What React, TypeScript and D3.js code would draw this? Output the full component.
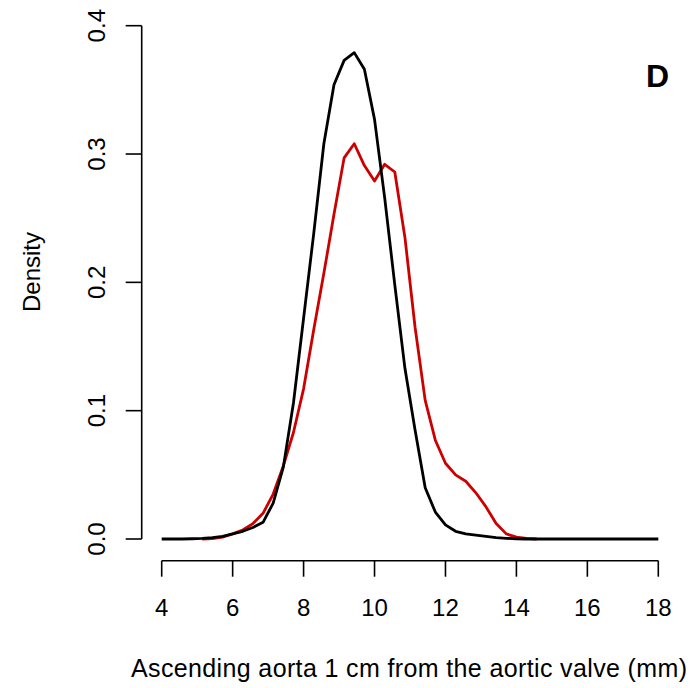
import React from "react";
import * as d3 from "d3";

// x grid on which densities are evaluated (50 points from 4 to 18)
const xGrid: number[] = d3.range(50).map((k) => 4 + (k * 14) / 49);

const blackDensity: number[] = [
  0, 0, 0, 0.0002, 0.0005, 0.001, 0.002, 0.004, 0.006, 0.009,
  0.013, 0.028, 0.056, 0.106, 0.172, 0.238, 0.308, 0.354, 0.373, 0.379,
  0.366, 0.327, 0.266, 0.198, 0.133, 0.085, 0.04, 0.021, 0.011, 0.006,
  0.004, 0.003, 0.002, 0.001, 0.0005, 0.0002, 0, 0, 0, 0,
  0, 0, 0, 0, 0, 0, 0, 0, 0, 0,
];

const redDensity: (number | null)[] = [
  null, null, null, null, 0, 0.0003, 0.0015, 0.004, 0.007, 0.012,
  0.02, 0.035, 0.057, 0.083, 0.117, 0.163, 0.207, 0.253, 0.297, 0.308,
  0.291, 0.279, 0.292, 0.286, 0.235, 0.165, 0.108, 0.077, 0.059, 0.05,
  0.045, 0.036, 0.025, 0.012, 0.004, 0.0015, 0.0005, 0, null, null,
  null, null, null, null, null, null, null, null, null, null,
];

const xTicks: number[] = [4, 6, 8, 10, 12, 14, 16, 18];
const yTicks: number[] = [0, 0.1, 0.2, 0.3, 0.4];
const xLabel = "Ascending aorta 1 cm from the aortic valve (mm)";
const yLabel = "Density";
const panelLabel = "D";

const FONT = "'Liberation Sans', Arial, Helvetica, sans-serif";

export default function App() {
  const W = 693;
  const H = 688;
  const x = d3.scaleLinear().domain([4, 18]).range([161.7, 658.3]);
  const y = d3.scaleLinear().domain([0, 0.4]).range([539, 25.7]);
  const axisX = 141.7;
  const axisY = 560.7;
  const tickLen = 16;

  const line = d3
    .line<[number, number | null]>()
    .defined((d) => d[1] != null)
    .x((d) => x(d[0]))
    .y((d) => y(d[1] as number));

  const blackPts = xGrid.map((v, i) => [v, blackDensity[i]] as [number, number | null]);
  const redPts = xGrid.map((v, i) => [v, redDensity[i]] as [number, number | null]);

  return (
    <svg
      width={W}
      height={H}
      style={{ position: "absolute", left: 0, top: 0, background: "#fff" }}
      fontFamily={FONT}
    >
      <rect width={W} height={H} fill="#fff" />
      {/* curves */}
      <path d={line(redPts) || ""} fill="none" stroke="#CD0000" strokeWidth={2.8} strokeLinejoin="round" />
      <path d={line(blackPts) || ""} fill="none" stroke="#000" strokeWidth={2.8} strokeLinejoin="round" />

      {/* x axis */}
      <line x1={x(4)} x2={x(18)} y1={axisY} y2={axisY} stroke="#000" strokeWidth={1.6} />
      {xTicks.map((t) => (
        <g key={"xt" + t}>
          <line x1={x(t)} x2={x(t)} y1={axisY} y2={axisY + tickLen} stroke="#000" strokeWidth={1.6} />
          <text x={x(t)} y={616} textAnchor="middle" fontSize={24} fill="#000">
            {t}
          </text>
        </g>
      ))}

      {/* y axis */}
      <line x1={axisX} x2={axisX} y1={y(0)} y2={y(0.4)} stroke="#000" strokeWidth={1.6} />
      {yTicks.map((t) => (
        <g key={"yt" + t}>
          <line x1={axisX - tickLen} x2={axisX} y1={y(t)} y2={y(t)} stroke="#000" strokeWidth={1.6} />
          <text
            transform={`translate(104.5,${y(t)}) rotate(-90)`}
            textAnchor="middle"
            fontSize={24}
            fill="#000"
          >
            {t.toFixed(1)}
          </text>
        </g>
      ))}

      {/* axis titles */}
      <text
        x={131}
        y={677}
        fontSize={25}
        fill="#000"
        textLength={556}
        lengthAdjust="spacing"
      >
        {xLabel}
      </text>
      <text transform="translate(40,272) rotate(-90)" textAnchor="middle" fontSize={24} fill="#000">
        {yLabel}
      </text>

      {/* panel label */}
      <text x={646} y={86.7} fontSize={32} fontWeight="bold" fill="#000">
        {panelLabel}
      </text>
    </svg>
  );
}
